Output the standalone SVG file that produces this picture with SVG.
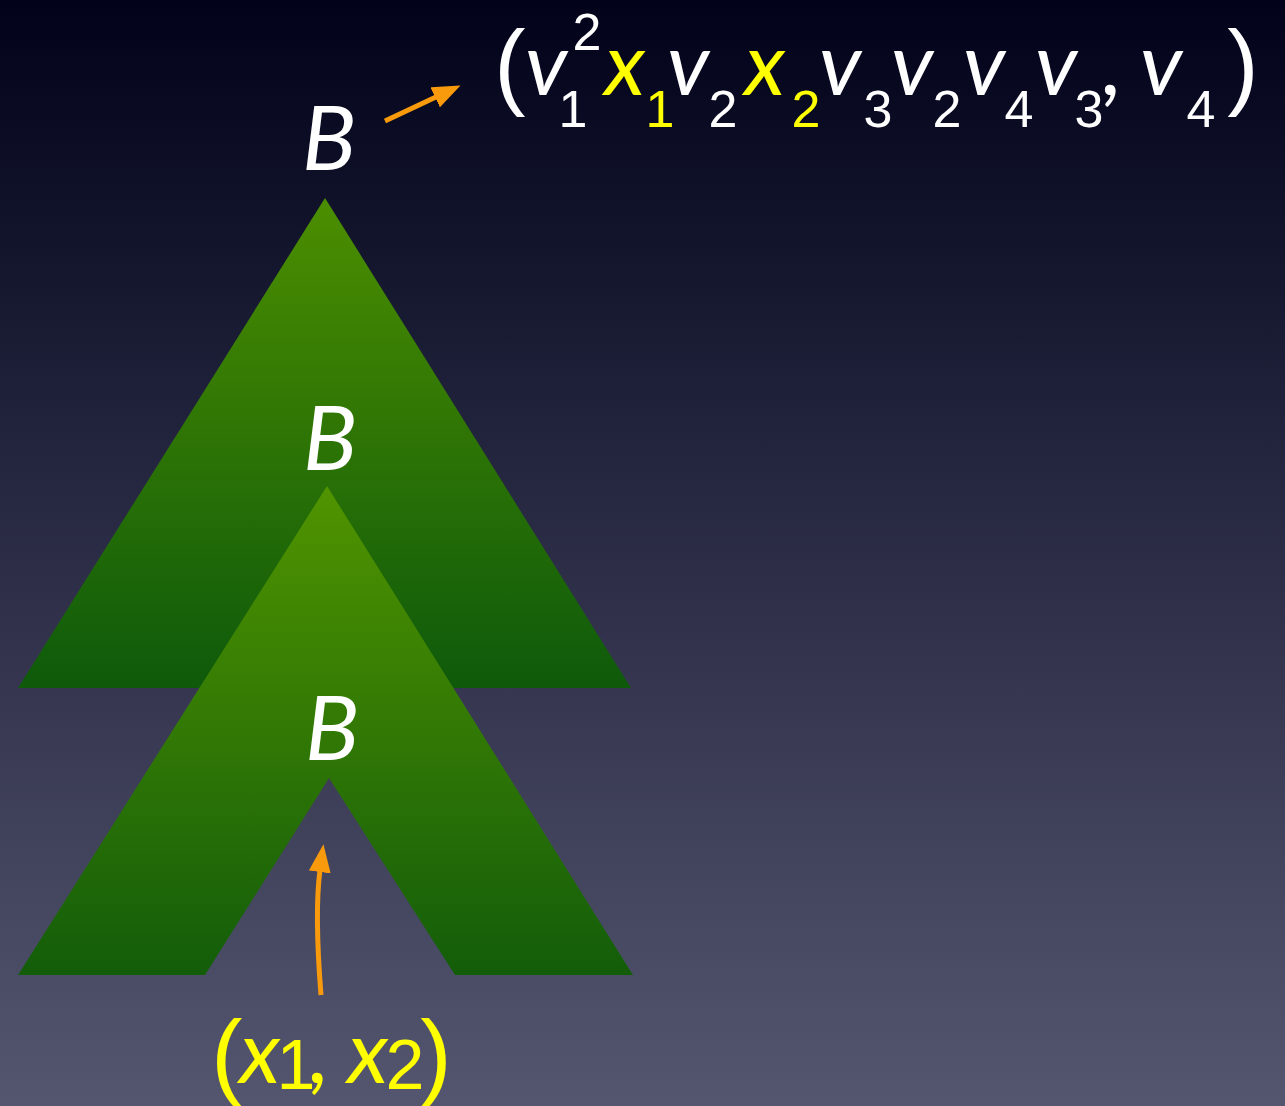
<svg xmlns="http://www.w3.org/2000/svg" width="1285" height="1106" viewBox="0 0 1285 1106">
  <defs>
    <linearGradient id="bg" x1="0" y1="0" x2="0" y2="1">
      <stop offset="0" stop-color="#02031a"/>
      <stop offset="0.25" stop-color="#15172f"/>
      <stop offset="0.6" stop-color="#34344e"/>
      <stop offset="1" stop-color="#545670"/>
    </linearGradient>
    <linearGradient id="gTop" x1="0" y1="0" x2="0" y2="1">
      <stop offset="0" stop-color="#4c8e00"/>
      <stop offset="1" stop-color="#0e5a0b"/>
    </linearGradient>
    <linearGradient id="gBot" x1="0" y1="0" x2="0" y2="1">
      <stop offset="0" stop-color="#509400"/>
      <stop offset="1" stop-color="#135d0a"/>
    </linearGradient>
    <marker id="ah" viewBox="0 0 28 22" refX="2" refY="11" markerWidth="28" markerHeight="22" markerUnits="userSpaceOnUse" orient="auto">
      <path d="M0,0 L28,11 L0,22 Z" fill="#f99a0c"/>
    </marker>
    <style>
      text { text-anchor: middle; }
      .it { font-family: Lato, "Open Sans", "DejaVu Sans", sans-serif; font-style: italic; }
      .up { font-family: "Liberation Sans", "Open Sans", sans-serif; font-style: normal; }
      .w { fill: #ffffff; }
      .y { fill: #ffff00; }
      .big { font-size: 90px; }
      .var { font-size: 88px; }
      .sub { font-size: 52px; }
      .par { font-size: 94px; }
      .dig { font-size: 70px; }
      .arrow { fill: none; stroke: #f99a0c; stroke-width: 5; marker-end: url(#ah); }
    </style>
  </defs>

  <rect x="0" y="0" width="1285" height="1106" fill="url(#bg)"/>

  <g id="tree-outer">
    <polygon points="325,198 631,688 18,688" fill="url(#gTop)"/>
  </g>
  <g id="tree-inner">
    <polygon points="327,486 633,975 455,975 329,778 205,975 18,975" fill="url(#gBot)"/>
  </g>

  <g id="label-B-top">
    <text class="it w big" x="329" y="170">B</text>
  </g>
  <g id="label-B-mid">
    <text class="it w big" x="330" y="470">B</text>
  </g>
  <g id="label-B-bot">
    <text class="it w big" x="332" y="760">B</text>
  </g>

  <g id="label-word">
    <text class="w"><tspan class="up par" x="510" y="97">(</tspan><tspan class="it var" x="546" y="95">v</tspan><tspan class="up sub" x="587" y="50">2</tspan><tspan class="up sub" x="573" y="127">1</tspan><tspan class="it var y" x="625" y="95">x</tspan><tspan class="up sub y" x="660" y="127">1</tspan><tspan class="it var" x="688" y="95">v</tspan><tspan class="up sub" x="723" y="127">2</tspan><tspan class="it var y" x="765" y="95">x</tspan><tspan class="up sub y" x="806" y="127">2</tspan><tspan class="it var" x="840" y="95">v</tspan><tspan class="up sub" x="878" y="127">3</tspan><tspan class="it var" x="912" y="95">v</tspan><tspan class="up sub" x="947" y="127">2</tspan><tspan class="it var" x="984" y="95">v</tspan><tspan class="up sub" x="1019" y="127">4</tspan><tspan class="it var" x="1056" y="95">v</tspan><tspan class="up sub" x="1089" y="127">3</tspan><tspan class="it var" x="1113" y="95">,</tspan><tspan class="it var" x="1161" y="95">v</tspan><tspan class="up sub" x="1201" y="127">4</tspan><tspan class="up par" x="1243" y="97">)</tspan></text>
  </g>

  <g id="label-input">
    <text class="y"><tspan class="up par" x="227" y="1087">(</tspan><tspan class="it var" x="260" y="1083">x</tspan><tspan class="up dig" x="296" y="1089">1</tspan><tspan class="it var" x="320" y="1083">,</tspan><tspan class="it var" x="368" y="1083">x</tspan><tspan class="up dig" x="405" y="1089">2</tspan><tspan class="up par" x="436" y="1087">)</tspan></text>
  </g>

  <g id="connectors">
    <path class="arrow" d="M385,121 L437,96.5"/>
    <path class="arrow" d="M321,995 C317,945 316,900 320,870"/>
  </g>
</svg>
